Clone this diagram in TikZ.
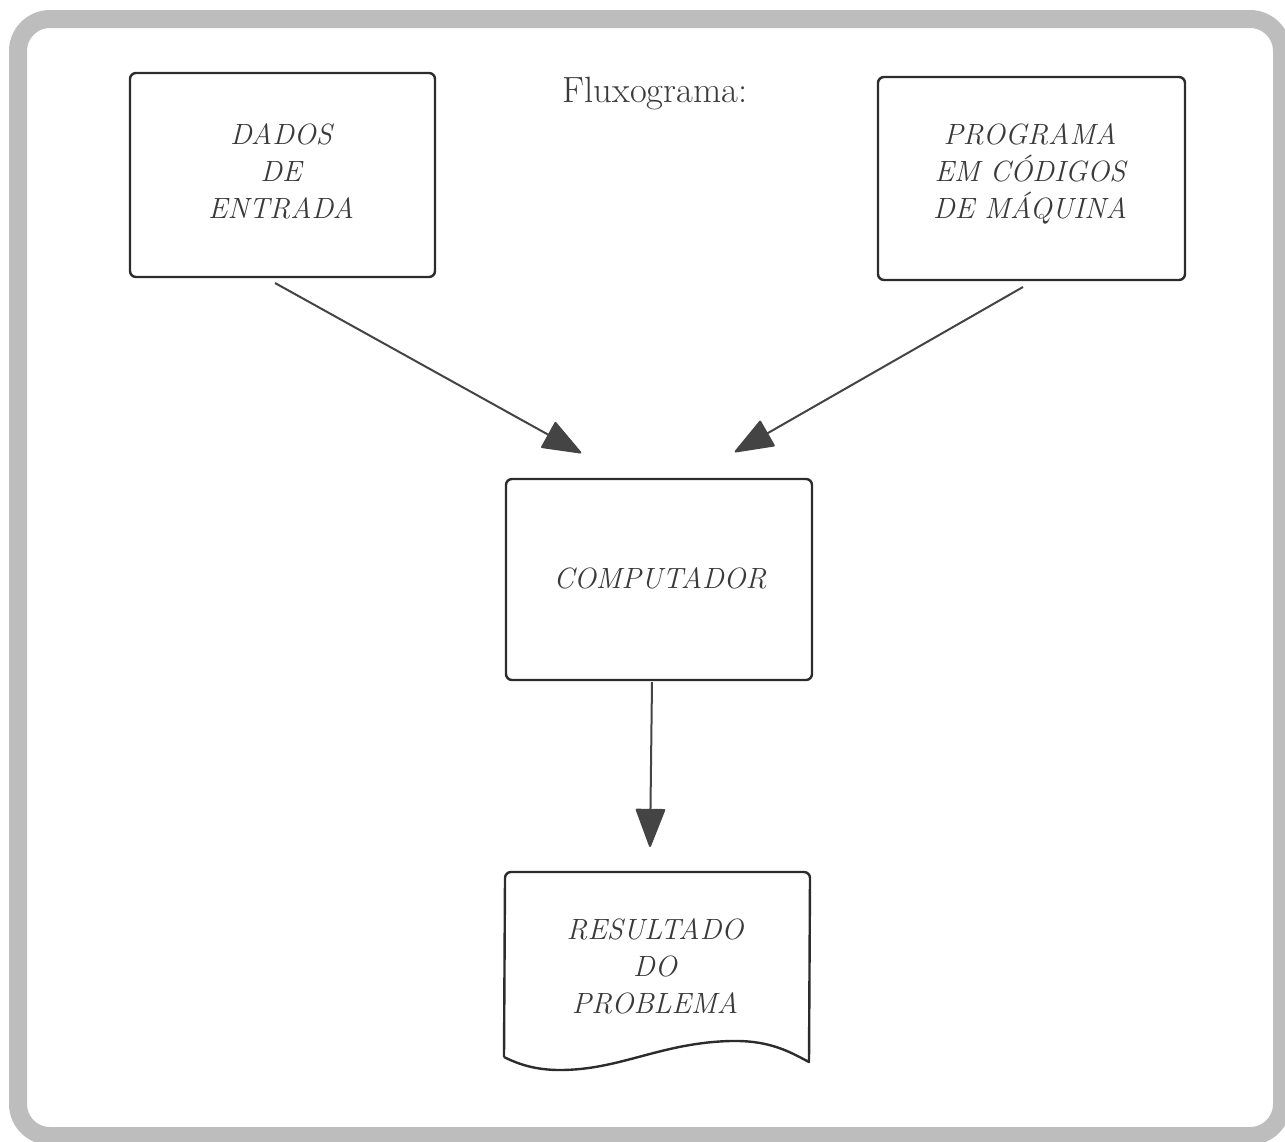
\documentclass[tikz,border=0pt]{standalone}
\usetikzlibrary{arrows.meta}
\definecolor{ink}{HTML}{2C2C2C}
\definecolor{txt}{HTML}{3A3A3A}
\definecolor{frame}{HTML}{BDBDBD}
\definecolor{head}{HTML}{444444}
\begin{document}
\begin{tikzpicture}[x=1pt,y=-1pt,
  boxstyle/.style={draw=ink,line width=2.4pt,rounded corners=6pt},
  lbl/.style={text=txt,font=\fontsize{29.3}{37}\selectfont\itshape,align=center},
  conn/.style={draw=head,line width=2pt,-{Triangle[length=40pt,width=30pt,round]},shorten >=2pt,line join=round}]
\useasboundingbox (0,0) rectangle (1285,1141);
\draw[frame,line width=18pt,rounded corners=32pt] (18,19) rectangle (1282,1136);
% boxes
\draw[boxstyle] (130,73) rectangle (435,277);
\draw[boxstyle] (878,77) rectangle (1185,280);
\draw[boxstyle] (506,479) rectangle (812,680);
\draw[ink,line width=2.4pt,line join=round] (504,1057) -- (505,878) to[out=90,in=180] (511,872) -- (804,872) to[out=0,in=90] (810,878) -- (809,1062)
  .. controls (790,1052) and (770,1040) .. (730,1041)
  .. controls (660,1043) and (620,1070) .. (560,1070)
  .. controls (535,1070) and (518,1064) .. (504,1057);
% text
\node[text=txt,font=\fontsize{36.5}{40}\selectfont,anchor=base] (title) at (655,102) {Fluxograma:};
\node[lbl,anchor=base] (dados) at (281,218) {DADOS\\DE\\ENTRADA};
\node[lbl,anchor=base] (prog) at (1030,218) {PROGRAMA\\EM CÓDIGOS\\DE MÁQUINA};
\node[lbl,anchor=base] (comp) at (660,588) {COMPUTADOR};
\node[lbl,anchor=base] (res) at (655,1013) {RESULTADO\\DO\\PROBLEMA};
% connector endpoints
\coordinate (a1s) at (275,283);
\coordinate (a1e) at (583,454);
\coordinate (a2s) at (1023,287);
\coordinate (a2e) at (733,453);
\coordinate (a3s) at (652,682);
\coordinate (a3e) at (650,849);
\draw[conn] (a1s) -- (a1e);
\draw[conn] (a2s) -- (a2e);
\draw[conn] (a3s) -- (a3e);
\end{tikzpicture}
\end{document}
